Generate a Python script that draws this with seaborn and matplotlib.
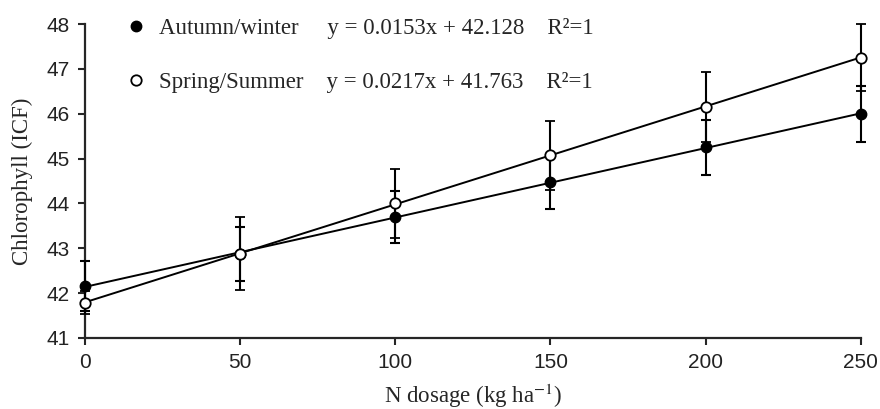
import numpy as np
import pandas as pd
import seaborn as sns
import matplotlib.pyplot as plt
from matplotlib.lines import Line2D

# Data
dose = [0, 50, 100, 150, 200, 250]
autumn = [42.16, 42.88, 43.69, 44.47, 45.25, 46.00]
autumn_err = [0.55, 0.60, 0.58, 0.60, 0.62, 0.62]
spring = [41.79, 42.88, 44.00, 45.08, 46.16, 47.25]
spring_err = [0.25, 0.82, 0.78, 0.77, 0.78, 0.75]

df = pd.DataFrame({"dose": dose, "autumn": autumn, "spring": spring})

sns.set_style("ticks")
plt.rcParams["mathtext.fontset"] = "stix"

fig = plt.figure(figsize=(8.8, 4.09), dpi=100)
ax = fig.add_axes([0.0966, 0.1736, 0.8814, 0.7674])

# Regression lines
sns.regplot(x="dose", y="autumn", data=df, ci=None, scatter=False, ax=ax,
            line_kws={"color": "black", "lw": 1.4})
sns.regplot(x="dose", y="spring", data=df, ci=None, scatter=False, ax=ax,
            line_kws={"color": "black", "lw": 1.4})

# Points with error bars
ax.errorbar(dose, autumn, yerr=autumn_err, fmt="o", color="black", ms=7.5,
            mfc="black", mec="black", ecolor="black", elinewidth=1.5,
            capsize=3.5, capthick=1.5, clip_on=False, zorder=5)
ax.errorbar(dose, spring, yerr=spring_err, fmt="o", color="black", ms=7.5,
            mfc="white", mec="black", mew=1.3, ecolor="black", elinewidth=1.5,
            capsize=3.5, capthick=1.5, clip_on=False, zorder=6)

ax.set_xlim(0, 250)
ax.set_ylim(41, 48)
ax.set_xticks(dose)
ax.set_yticks(range(41, 49))
sns.despine(ax=ax)
for s in ["left", "bottom"]:
    ax.spines[s].set_linewidth(1.6)
ax.tick_params(length=5, width=1.5, labelsize=15, labelcolor="#222222",
               pad=6)
for lab in ax.get_xticklabels() + ax.get_yticklabels():
    lab.set_family("Liberation Sans")

ax.set_xlabel(r"N dosage (kg ha$^{-1}$)", family="Liberation Serif",
              fontsize=16.5, labelpad=7)
ax.set_ylabel("Chlorophyll (ICF)", family="Liberation Serif", fontsize=16.5,
              labelpad=10)

handles = [
    Line2D([], [], marker="o", ls="none", color="black", ms=7.5),
    Line2D([], [], marker="o", ls="none", mfc="white", mec="black", mew=1.3, ms=7.5),
]
labels = [
    "Autumn/winter     y = 0.0153x + 42.128    R²=1",
    "Spring/Summer    y = 0.0217x + 41.763    R²=1",
]
fig.legend(handles, labels, loc="upper left", bbox_to_anchor=(0.1415, 0.956),
           frameon=False, handlelength=1, handletextpad=0.5, borderpad=0,
           borderaxespad=0, labelspacing=1.45,
           prop={"family": "Liberation Serif", "size": 16.5})

fig.savefig("out.png", dpi=100)
